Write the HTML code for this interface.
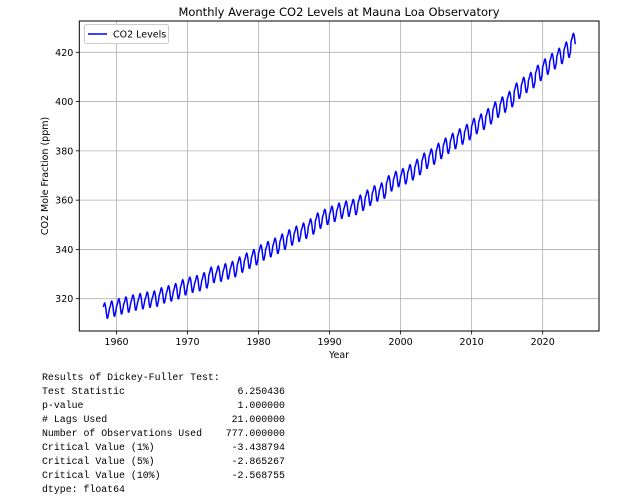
<!DOCTYPE html>
<html><head><meta charset="utf-8"><style>
body{margin:0;background:#fff;width:617px;height:500px;overflow:hidden}
svg{display:block}
text{font-family:"DejaVu Sans","Liberation Sans",sans-serif}
.mono{font-family:"Liberation Mono",monospace;font-size:9.9px;fill:#000;white-space:pre}
</style></head><body>
<svg id="chart" width="617" height="500">
<g id="grid"></g>
<g id="series"></g>
<rect x="79.3" y="21" width="519.7" height="310" fill="none" stroke="#000" stroke-width="1"/>
<g id="ticks"></g>
<text x="339" y="16" text-anchor="middle" font-size="11.5">Monthly Average CO2 Levels at Mauna Loa Observatory</text>
<text x="339" y="358" text-anchor="middle" font-size="9.5">Year</text>
<text transform="translate(48,176) rotate(-90)" text-anchor="middle" font-size="9.5">CO2 Mole Fraction (ppm)</text>
<g>
<rect x="84.5" y="24.5" width="84" height="19" rx="2" fill="#fff" stroke="#ccc"/>
<line x1="88" y1="34" x2="107" y2="34" stroke="#0000ff" stroke-width="1.5"/>
<text x="113" y="37.5" font-size="9.5">CO2 Levels</text>
</g>
<g>
<text class="mono" x="42" y="380">Results of Dickey-Fuller Test:</text>
<text class="mono" x="42" y="394">Test Statistic                   6.250436</text>
<text class="mono" x="42" y="408">p-value                          1.000000</text>
<text class="mono" x="42" y="422"># Lags Used                     21.000000</text>
<text class="mono" x="42" y="436">Number of Observations Used    777.000000</text>
<text class="mono" x="42" y="450">Critical Value (1%)             -3.438794</text>
<text class="mono" x="42" y="464">Critical Value (5%)             -2.865267</text>
<text class="mono" x="42" y="478">Critical Value (10%)            -2.568755</text>
<text class="mono" x="42" y="492">dtype: float64</text>
</g>
</svg>
<script>
const years = [1958,1959,1960,1961,1962,1963,1964,1965,1966,1967,1968,1969,1970,1971,1972,1973,1974,1975,1976,1977,1978,1979,1980,1981,1982,1983,1984,1985,1986,1987,1988,1989,1990,1991,1992,1993,1994,1995,1996,1997,1998,1999,2000,2001,2002,2003,2004,2005,2006,2007,2008,2009,2010,2011,2012,2013,2014,2015,2016,2017,2018,2019,2020,2021,2022,2023,2024];
const annualMeans = [315.2,315.98,316.91,317.64,318.45,318.99,319.62,320.04,321.37,322.18,323.05,324.62,325.68,326.32,327.46,329.68,330.19,331.13,332.03,333.84,335.41,336.84,338.76,340.12,341.48,343.15,344.87,346.35,347.61,349.31,351.69,353.2,354.45,355.7,356.54,357.21,358.96,360.97,362.74,363.88,366.84,368.54,369.71,371.32,373.45,375.98,377.7,379.98,382.09,384.02,385.83,387.64,390.1,391.85,394.06,396.74,398.81,401.01,404.41,406.76,408.72,411.65,414.21,416.41,418.53,421.08,424.6];
const seasonalOffsets = [-0.1,0.6,1.4,2.6,3.1,2.4,0.9,-1.3,-3.0,-3.1,-1.9,-0.8];
const firstMonth = 2;   // March 1958
const lastMonth = 7;    // August 2024
const xTicks = [1960,1970,1980,1990,2000,2010,2020];
const yTicks = [320,340,360,380,400,420];

const L=79.3,R=599,T=21,B=331;
const xs = yr => 116.5 + (yr-1960)*7.103;
const ys = v => 298.7 - (v-320)*2.464;
const NS="http://www.w3.org/2000/svg";
const grid=document.getElementById('grid'), ticks=document.getElementById('ticks'), series=document.getElementById('series');
function mk(tag,attrs,parent){const e=document.createElementNS(NS,tag);for(const k in attrs)e.setAttribute(k,attrs[k]);parent.appendChild(e);return e;}

xTicks.forEach(t=>{
  const x=xs(t);
  const g=mk('line',{x1:x,x2:x,y1:T,y2:B,stroke:'#b0b0b0','stroke-width':0.8},grid);
  
  
  const tk=mk('line',{x1:x,x2:x,y1:B,y2:B+3.5,stroke:'#000','stroke-width':0.8},ticks);
  
  
  const tx=mk('text',{x:x,y:B+14,'text-anchor':'middle','font-size':9.5},ticks);
  tx.textContent=t;
  
  
});
yTicks.forEach(t=>{
  const y=ys(t);
  const g=mk('line',{x1:L,x2:R,y1:y,y2:y,stroke:'#b0b0b0','stroke-width':0.8},grid);
  
  
  const tk=mk('line',{x1:L-3.5,x2:L,y1:y,y2:y,stroke:'#000','stroke-width':0.8},ticks);
  
  
  const tx=mk('text',{x:L-6,y:y+3.5,'text-anchor':'end','font-size':9.5},ticks);
  tx.textContent=t;
  
  
});

const pts=[];
years.forEach((yr,i)=>{
  for(let m=0;m<12;m++){
    if(i===0 && m<firstMonth) continue;
    if(i===years.length-1 && m>lastMonth) continue;
    const v=annualMeans[i]+seasonalOffsets[m];
    pts.push(xs(yr+m/12).toFixed(2)+','+ys(v).toFixed(2));
  }
});
const line=mk('polyline',{points:pts.join(' '),fill:'none',stroke:'#0000ff','stroke-width':1.5,'stroke-linejoin':'round'},series);


</script>
</body></html>
